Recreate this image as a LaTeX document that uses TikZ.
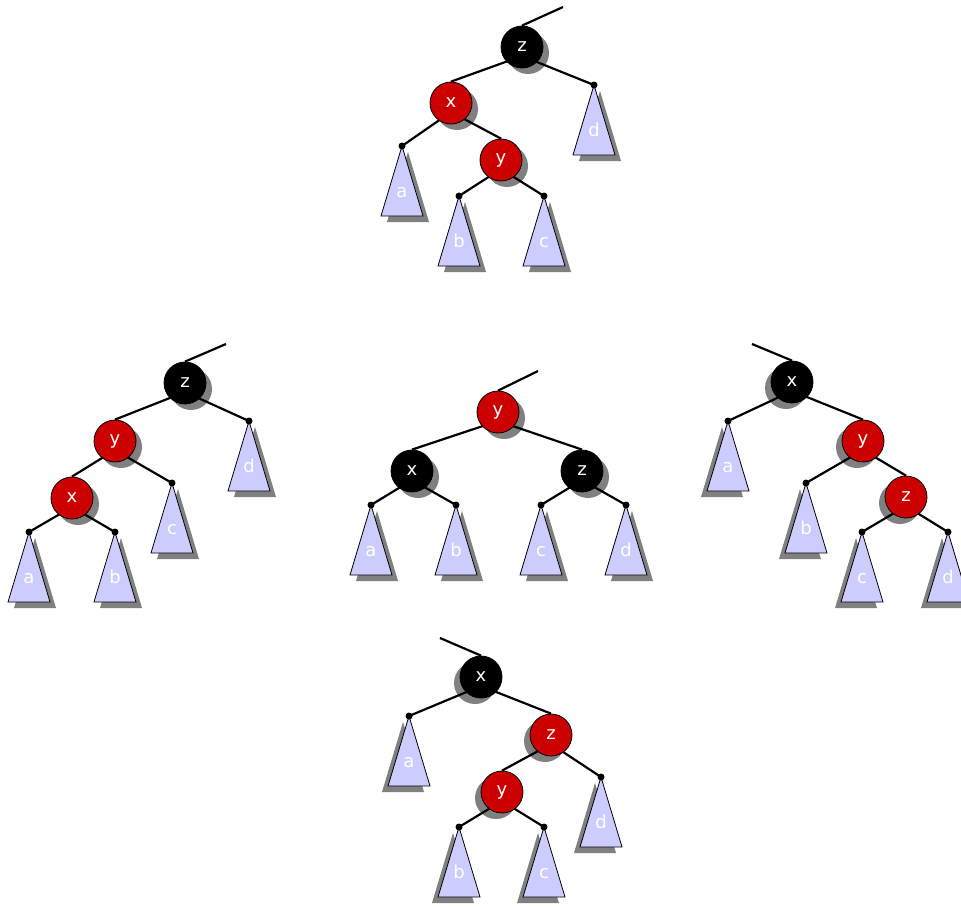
\documentclass[tikz,border=0pt]{standalone}
\usepackage{fontspec}
\setmainfont{DejaVu Sans}
\pgfdeclarelayer{bglayer}
\pgfdeclarelayer{shadowlayer}
\pgfdeclarelayer{edgelayer}
\pgfsetlayers{bglayer,shadowlayer,edgelayer,main}
\definecolor{rbred}{HTML}{CC0000}
\definecolor{trifill}{HTML}{CCCCFF}
\definecolor{shgray}{HTML}{808080}
\tikzset{
 rbnode/.style={circle, minimum size=42pt, inner sep=0pt, draw=black, line width=0.8pt, text=white, font=\fontsize{18}{21}\selectfont},
 rednode/.style={rbnode, fill=rbred},
 blacknode/.style={rbnode, fill=black},
 leafdot/.style={circle, fill=black, minimum size=7pt, inner sep=0pt},
 subtri/.style={fill=trifill, draw=black, line width=0.8pt, line join=miter},
 trilabel/.style={anchor=base, text=white, font=\fontsize{18}{21}\selectfont, inner sep=0pt},
 treeedge/.style={line width=2.2pt, draw=black},
}
\newcommand\rbnd[6]{%
  \begin{pgfonlayer}{shadowlayer}\fill[shgray] ({#2+#6},{#3+6}) circle (21pt);\end{pgfonlayer}
  \node[#5] (#1) at (#2,#3) {#4};}
\newcommand\rbsub[5]{%
  \begin{pgfonlayer}{shadowlayer}\fill[shgray] ({#2+#5},{#3+6}) -- ++(-21,70) -- ++(42,0) -- cycle;\end{pgfonlayer}
  \draw[subtri] (#2,#3) -- ++(-21,70) -- ++(42,0) -- cycle;
  \node[trilabel] (#1l) at (#2,{#3+51}) {#4};
  \node[leafdot] (#1) at (#2,#3) {};}
\newcommand\rbedge[2]{\begin{pgfonlayer}{edgelayer}\draw[treeedge] ([yshift=-9pt]#1.center) -- (#2);\end{pgfonlayer}}
\newcommand\rbtop[2]{\begin{pgfonlayer}{edgelayer}\draw[treeedge] (#1.north) -- (#2);\end{pgfonlayer}}
\begin{document}
\begin{tikzpicture}[x=1pt,y=-1pt]
\begin{pgfonlayer}{bglayer}\fill[white] (0,0) rectangle (961,906);\end{pgfonlayer}
\useasboundingbox (0,0) rectangle (961,906);
% ---------- top tree ----------
\rbnd{Tz}{522}{47}{z}{blacknode}{6}
\rbnd{Tx}{451}{103}{x}{rednode}{6}
\rbnd{Ty}{501}{160}{y}{rednode}{6}
\rbsub{Ta}{402}{146}{a}{6}
\rbsub{Tb}{459}{196}{b}{6}
\rbsub{Tc}{544}{196}{c}{6}
\rbsub{Td}{594}{85}{d}{6}
\coordinate (Ttop) at (563,7);
\rbtop{Tz}{Ttop}
\rbedge{Tz}{Tx.north}
\rbedge{Tz}{Td.center}
\rbedge{Tx}{Ta.center}
\rbedge{Tx}{Ty.north}
\rbedge{Ty}{Tb.center}
\rbedge{Ty}{Tc.center}
% ---------- left tree ----------
\rbnd{Lz}{185}{383}{z}{blacknode}{6}
\rbnd{Ly}{115}{441}{y}{rednode}{6}
\rbnd{Lx}{72}{498}{x}{rednode}{6}
\rbsub{La}{29}{532}{a}{6}
\rbsub{Lb}{115}{532}{b}{6}
\rbsub{Lc}{172}{483}{c}{6}
\rbsub{Ld}{249}{421}{d}{6}
\coordinate (Ltop) at (226,344);
\rbtop{Lz}{Ltop}
\rbedge{Lz}{Ly.north}
\rbedge{Lz}{Ld.center}
\rbedge{Ly}{Lx.north}
\rbedge{Ly}{Lc.center}
\rbedge{Lx}{La.center}
\rbedge{Lx}{Lb.center}
% ---------- centre tree ----------
\rbnd{Cy}{498}{412}{y}{rednode}{6}
\rbnd{Cx}{412}{471}{x}{blacknode}{6}
\rbnd{Cz}{582}{471}{z}{blacknode}{6}
\rbsub{Ca}{371}{505}{a}{6}
\rbsub{Cb}{456}{505}{b}{6}
\rbsub{Cc}{541}{505}{c}{6}
\rbsub{Cd}{626}{505}{d}{6}
\coordinate (Ctop) at (538,371);
\rbtop{Cy}{Ctop}
\rbedge{Cy}{Cx.north}
\rbedge{Cy}{Cz.north}
\rbedge{Cx}{Ca.center}
\rbedge{Cx}{Cb.center}
\rbedge{Cz}{Cc.center}
\rbedge{Cz}{Cd.center}
% ---------- right tree ----------
\rbnd{Rx}{792}{382}{x}{blacknode}{-6}
\rbnd{Ry}{863}{441}{y}{rednode}{-6}
\rbnd{Rz}{906}{497}{z}{rednode}{-6}
\rbsub{Ra}{728}{421}{a}{-6}
\rbsub{Rb}{806}{483}{b}{-6}
\rbsub{Rc}{862}{532}{c}{-6}
\rbsub{Rd}{948}{532}{d}{-6}
\coordinate (Rtop) at (752,344);
\rbtop{Rx}{Rtop}
\rbedge{Rx}{Ra.center}
\rbedge{Rx}{Ry.north}
\rbedge{Ry}{Rb.center}
\rbedge{Ry}{Rz.north}
\rbedge{Rz}{Rc.center}
\rbedge{Rz}{Rd.center}
% ---------- bottom tree ----------
\rbnd{Bx}{481}{677}{x}{blacknode}{-6}
\rbnd{Bz}{551}{735}{z}{rednode}{-6}
\rbnd{By}{502}{792}{y}{rednode}{-6}
\rbsub{Ba}{409}{716}{a}{-6}
\rbsub{Bb}{459}{827}{b}{-6}
\rbsub{Bc}{544}{827}{c}{-6}
\rbsub{Bd}{601}{777}{d}{-6}
\coordinate (Btop) at (440,638);
\rbtop{Bx}{Btop}
\rbedge{Bx}{Ba.center}
\rbedge{Bx}{Bz.north}
\rbedge{Bz}{By.north}
\rbedge{Bz}{Bd.center}
\rbedge{By}{Bb.center}
\rbedge{By}{Bc.center}
\end{tikzpicture}
\end{document}
